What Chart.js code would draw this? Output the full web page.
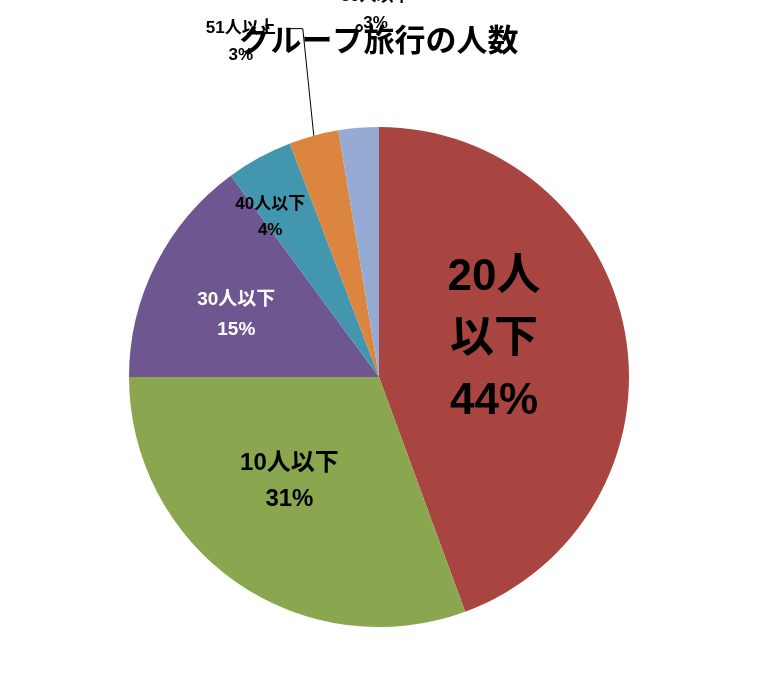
<!DOCTYPE html>
<html><head><meta charset="utf-8">
<script src="https://cdn.jsdelivr.net/npm/chart.js@4/dist/chart.umd.min.js"></script>
<style>html,body{margin:0;background:#fff}#wrap{width:757px;height:688px}</style>
</head><body><div id="wrap"><canvas id="c"></canvas></div>
<script>
const title = 'グループ旅行の人数';
const categories = ['20人以下', '10人以下', '30人以下', '40人以下', '51人以上', '50人以下'];
const values = [44.4, 30.6, 14.9, 4.3, 3.2, 2.6];
const pctLabels = ['44%', '31%', '15%', '4%', '3%', '3%'];
const colors = ['#A94541', '#8AA64F', '#6E5690', '#4297AE', '#DB853F', '#95ABD3'];

const FONT = '"Liberation Sans","Noto Sans CJK JP",sans-serif';
// label style per slice: radius factor, font size, colour, line split, offsets
const labelStyle = [
  { r: 0.5, size: 44, color: '#000', lines: ['20人', '以下', '44%'], dx: -8, dy: -15, lh: 62 },
  { r: 0.5, size: 24, color: '#000', dx: -18, dy: 2, lh: 36 },
  { r: 0.55, size: 19, color: '#fff', dx: -20, dy: 0, lh: 30 },
  { r: 0.7, size: 17, color: '#000', dx: -25, dy: -6, lh: 26 },
  { r: 1.0, size: 17, color: '#000', dx: -73, dy: -94, lh: 27, leader: true },
  { r: 1.0, size: 17, color: '#000', dx: 17, dy: -118, lh: 27 }
];

const labelPlugin = {
  id: 'labels',
  afterDraw(chart) {
    const ctx = chart.ctx;
    ctx.save();
    ctx.textAlign = 'center';
    ctx.textBaseline = 'middle';
    ctx.fillStyle = '#000';
    ctx.font = 'bold 31px ' + FONT;
    ctx.fillText(title, 379, 42);
    chart.getDatasetMeta(0).data.forEach((arc, i) => {
      const s = labelStyle[i];
      const mid = (arc.startAngle + arc.endAngle) / 2;
      const x = arc.x + Math.cos(mid) * arc.outerRadius * s.r + s.dx;
      const y = arc.y + Math.sin(mid) * arc.outerRadius * s.r + s.dy;
      const lines = s.lines || [categories[i], pctLabels[i]];
      if (s.leader) {
        const ex = arc.x + Math.cos(mid) * arc.outerRadius;
        const ey = arc.y + Math.sin(mid) * arc.outerRadius;
        ctx.strokeStyle = '#000';
        ctx.lineWidth = 1;
        ctx.beginPath();
        ctx.moveTo(x + 47, y - 13);
        ctx.lineTo(x + 62, y - 13);
        ctx.lineTo(ex, ey);
        ctx.stroke();
      }
      ctx.fillStyle = s.color;
      ctx.font = 'bold ' + s.size + 'px ' + FONT;
      const h = (lines.length - 1) * s.lh;
      lines.forEach((t, k) => ctx.fillText(t, x, y - h / 2 + k * s.lh));
    });
    ctx.restore();
  }
};

new Chart(document.getElementById('c'), {
  type: 'pie',
  data: { labels: categories, datasets: [{ data: values, backgroundColor: colors, borderWidth: 0 }] },
  options: {
    responsive: true, maintainAspectRatio: false, animation: false,
    layout: { padding: { top: 127, left: 129, right: 128, bottom: 61 } },
    plugins: { legend: { display: false }, tooltip: { enabled: false } }
  },
  plugins: [labelPlugin]
});
</script></body></html>
